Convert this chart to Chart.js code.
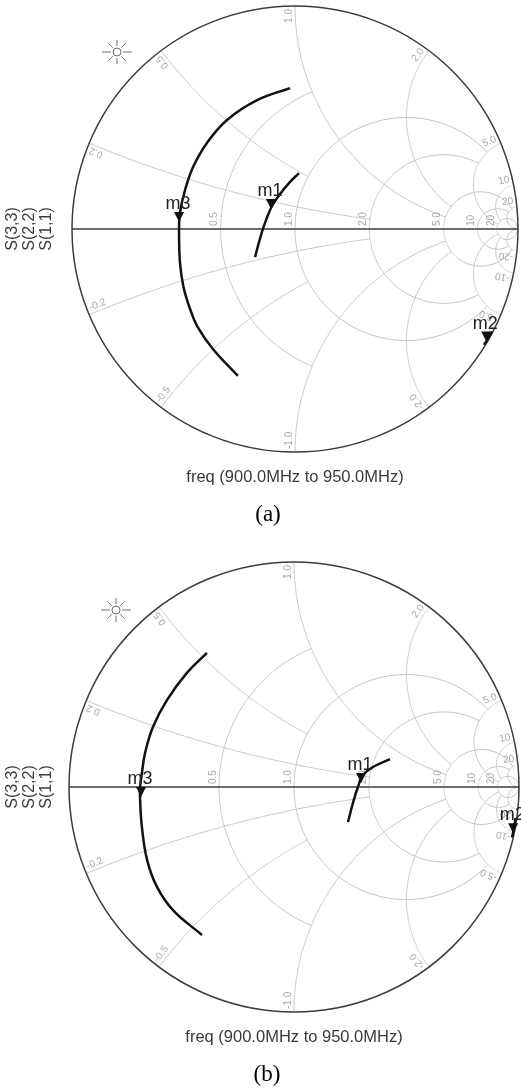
<!DOCTYPE html>
<html>
<head>
<meta charset="utf-8">
<script src="https://cdn.jsdelivr.net/npm/chart.js@4.4.0/dist/chart.umd.min.js"></script>
<style>
  body { margin: 0; background: #fff; width: 521px; height: 1090px; overflow: hidden; }
  .box { position: relative; width: 521px; height: 545px; }
  canvas { display: block; }
</style>
</head>
<body>
<div class="box"><canvas id="smithA" width="521" height="545"></canvas></div>
<div class="box"><canvas id="smithB" width="521" height="545"></canvas></div>
<script>
// Smith chart grid (normalised impedance)
var gridR = [0.5, 1, 2, 5, 10, 20];
var gridRText = ['0.5', '1.0', '2.0', '5.0', '10', '20'];
var gridRStop = [1, 5, 5, 20, 20, Infinity];   // |x| where each r circle stops
var gridX = [0.2, 0.5, 1, 2, 5, 10, 20];
var gridXText = ['0.2', '0.5', '1.0', '2.0', '5.0', '10', '20'];
var gridXStop = [2, 1, 5, 5, 20, 20, Infinity]; // r where each x arc stops

var traceNames = ['S(3,3)', 'S(2,2)', 'S(1,1)'];
var freqText = 'freq (900.0MHz to 950.0MHz)';

// (a) reflection coefficients (re, im)
var s11aRe = [0.018, -0.022, -0.067, -0.103, -0.130, -0.148, -0.166, -0.179];
var s11aIm = [0.251, 0.211, 0.157, 0.103, 0.040, -0.013, -0.076, -0.126];
var s22aRe = [0.883, 0.866, 0.848];
var s22aIm = [-0.459, -0.490, -0.520];
var s33aRe = [-0.022, -0.170, -0.305, -0.395, -0.457, -0.493, -0.516, -0.520, -0.516, -0.500, -0.470, -0.439, -0.368, -0.256];
var s33aIm = [0.632, 0.578, 0.489, 0.386, 0.278, 0.175, 0.072, -0.004, -0.148, -0.260, -0.360, -0.435, -0.538, -0.659];
var markA = ['m1', 'm2', 'm3'];
var markARe = [-0.108, 0.858, -0.520];
var markAIm = [0.090, -0.505, 0.031];

// (b)
var s11bRe = [0.427, 0.351, 0.307, 0.284, 0.262, 0.240];
var s11bIm = [0.124, 0.089, 0.053, 0.000, -0.071, -0.156];
var s22bRe = [0.985, 0.978, 0.969];
var s22bIm = [-0.138, -0.181, -0.224];
var s33bRe = [-0.387, -0.476, -0.564, -0.627, -0.662, -0.676, -0.684, -0.684, -0.676, -0.653, -0.609, -0.538, -0.409];
var s33bIm = [0.596, 0.507, 0.387, 0.267, 0.151, 0.062, 0.000, -0.058, -0.178, -0.324, -0.444, -0.547, -0.658];
var markB = ['m1', 'm2', 'm3'];
var markBRe = [0.298, 0.974, -0.680];
var markBIm = [0.018, -0.205, -0.044];

function pts(re, im) {
  return re.map(function (v, i) { return { x: v, y: im[i] }; });
}

function zToGamma(a, b) {
  var d = (a + 1) * (a + 1) + b * b;
  return [(a * a + b * b - 1) / d, 2 * b / d];
}

function strokeZ(ctx, xs, ys, fn, t0, t1) {
  ctx.beginPath();
  var n = 240;
  for (var i = 0; i <= n; i++) {
    var t = t0 + (t1 - t0) * i / n;
    var g = fn(t);
    var px = xs.getPixelForValue(g[0]), py = ys.getPixelForValue(g[1]);
    if (i === 0) ctx.moveTo(px, py); else ctx.lineTo(px, py);
  }
  ctx.stroke();
}

var smithPlugin = {
  id: 'smith',
  beforeDatasetsDraw: function (chart) {
    var ctx = chart.ctx, xs = chart.scales.x, ys = chart.scales.y;
    var cx = xs.getPixelForValue(0), cy = ys.getPixelForValue(0);
    var R = xs.getPixelForValue(1) - cx;
    var lim = Math.PI / 2 - 1e-4;
    ctx.save();
    ctx.strokeStyle = '#c4c4c4';
    ctx.lineWidth = 1;
    gridR.forEach(function (r, i) {
      var a = isFinite(gridRStop[i]) ? Math.atan(gridRStop[i]) : lim;
      strokeZ(ctx, xs, ys, function (t) { return zToGamma(r, Math.tan(t)); }, -a, a);
    });
    gridX.forEach(function (x, i) {
      var a = isFinite(gridXStop[i]) ? Math.atan(gridXStop[i]) : lim;
      strokeZ(ctx, xs, ys, function (t) { return zToGamma(Math.tan(t), x); }, 0, a);
      strokeZ(ctx, xs, ys, function (t) { return zToGamma(Math.tan(t), -x); }, 0, a);
    });

    // outer circle and real axis
    ctx.strokeStyle = '#3c3c3c';
    ctx.lineWidth = 1.5;
    ctx.beginPath();
    ctx.arc(cx, cy, R, 0, Math.PI * 2);
    ctx.stroke();
    ctx.beginPath();
    ctx.moveTo(xs.getPixelForValue(-1), cy);
    ctx.lineTo(xs.getPixelForValue(1), cy);
    ctx.stroke();

    // grid labels
    ctx.fillStyle = '#a8a8a8';
    ctx.font = '10px "Liberation Sans", Arial, sans-serif';
    ctx.textBaseline = 'bottom';
    gridR.forEach(function (r, i) {
      var px = xs.getPixelForValue((r - 1) / (r + 1));
      ctx.save();
      ctx.translate(px - 1, cy - 3);
      ctx.rotate(-Math.PI / 2);
      ctx.textAlign = 'left';
      ctx.fillText(gridRText[i], 0, 0);
      ctx.restore();
    });
    gridX.forEach(function (x, i) {
      var th = Math.PI - 2 * Math.atan(x);
      [1, -1].forEach(function (s) {
        var ang = s * th;
        var px = xs.getPixelForValue(Math.cos(ang)), py = ys.getPixelForValue(Math.sin(ang));
        ctx.save();
        ctx.translate(px, py);
        if (s > 0) {
          ctx.rotate(-ang);
          ctx.textAlign = 'right';
          ctx.fillText(gridXText[i], -3, -1);
        } else {
          ctx.rotate(-(ang + Math.PI));
          ctx.textAlign = 'left';
          ctx.fillText('-' + gridXText[i], 3, -1);
        }
        ctx.restore();
      });
    });
    ctx.restore();
  },
  afterDatasetsDraw: function (chart, args, opts) {
    var ctx = chart.ctx, xs = chart.scales.x, ys = chart.scales.y;
    var cx = xs.getPixelForValue(0), cy = ys.getPixelForValue(0);
    var R = xs.getPixelForValue(1) - cx;
    ctx.save();

    // markers
    opts.names.forEach(function (nm, i) {
      var px = xs.getPixelForValue(opts.re[i]), py = ys.getPixelForValue(opts.im[i]);
      ctx.fillStyle = '#111';
      ctx.beginPath();
      ctx.moveTo(px, py);
      ctx.lineTo(px - 5, py - 10);
      ctx.lineTo(px + 5, py - 10);
      ctx.closePath();
      ctx.fill();
      ctx.fillStyle = '#222';
      ctx.font = '18px "Liberation Sans", Arial, sans-serif';
      ctx.textAlign = 'center';
      ctx.textBaseline = 'alphabetic';
      ctx.fillText(nm, px - 1, py - 13);
    });

    // sun symbol
    var sx = cx - 178, sy = cy - 177;
    ctx.strokeStyle = '#6f6f6f';
    ctx.lineWidth = 1;
    ctx.beginPath();
    ctx.arc(sx, sy, 4, 0, Math.PI * 2);
    ctx.stroke();
    for (var k = 0; k < 8; k++) {
      var a = k * Math.PI / 4;
      var len = (k % 4 === 0) ? 15 : 12;
      ctx.beginPath();
      ctx.moveTo(sx + Math.cos(a) * 6, sy + Math.sin(a) * 6);
      ctx.lineTo(sx + Math.cos(a) * len, sy + Math.sin(a) * len);
      ctx.stroke();
    }

    // trace names, vertical
    ctx.fillStyle = '#3a3a3a';
    ctx.font = '16px "Liberation Sans", Arial, sans-serif';
    ctx.textAlign = 'center';
    ctx.textBaseline = 'middle';
    [13, 30, 47].forEach(function (x, i) {
      ctx.save();
      ctx.translate(x, cy);
      ctx.rotate(-Math.PI / 2);
      ctx.fillText(traceNames[i], 0, 0);
      ctx.restore();
    });

    ctx.font = '16.5px "Liberation Sans", Arial, sans-serif';
    ctx.fillText(freqText, cx, cy + R + 25);

    ctx.fillStyle = '#000';
    ctx.font = '23px "Liberation Serif", "Times New Roman", serif';
    ctx.fillText(opts.caption, cx - 27, cy + R + 63);
    ctx.restore();
  }
};

function traceSet(re, im) {
  return {
    data: pts(re, im),
    showLine: true,
    borderColor: '#111',
    borderWidth: 2.5,
    pointRadius: 0,
    tension: 0.4,
    fill: false
  };
}

function makeSmith(id, sets, pad, markers) {
  return new Chart(document.getElementById(id), {
    type: 'scatter',
    data: { datasets: sets },
    options: {
      responsive: false,
      animation: false,
      layout: { padding: pad },
      plugins: { legend: { display: false }, tooltip: { enabled: false }, smith: markers },
      scales: {
        x: { type: 'linear', min: -1, max: 1, display: false },
        y: { type: 'linear', min: -1, max: 1, display: false }
      }
    },
    plugins: [smithPlugin]
  });
}

makeSmith('smithA',
  [traceSet(s11aRe, s11aIm), traceSet(s22aRe, s22aIm), traceSet(s33aRe, s33aIm)],
  { left: 72, right: 3, top: 6, bottom: 93 },
  { names: markA, re: markARe, im: markAIm, caption: '(a)' });

makeSmith('smithB',
  [traceSet(s11bRe, s11bIm), traceSet(s22bRe, s22bIm), traceSet(s33bRe, s33bIm)],
  { left: 69, right: 2, top: 17, bottom: 78 },
  { names: markB, re: markBRe, im: markBIm, caption: '(b)' });
</script>
</body>
</html>
